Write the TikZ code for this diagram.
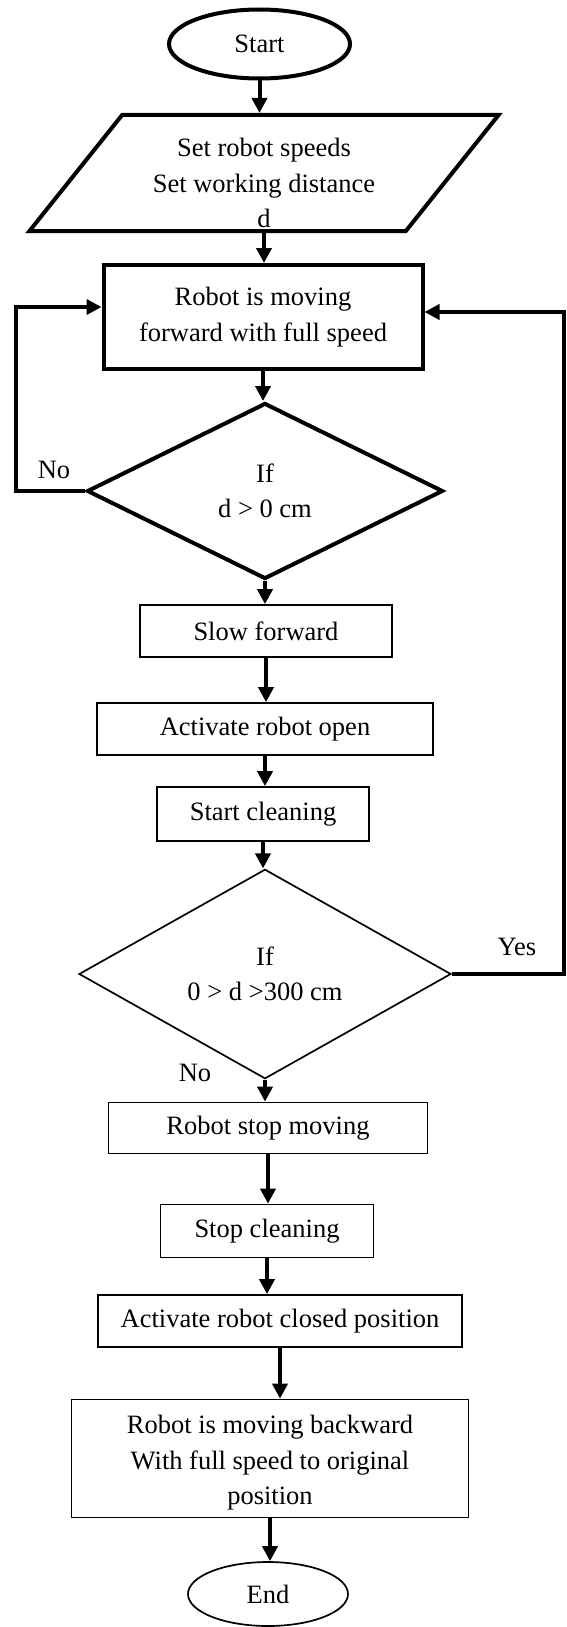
\documentclass[tikz,border=0pt]{standalone}
\usepackage{fontspec}
\setmainfont{Liberation Serif}
\usetikzlibrary{shapes.geometric,arrows.meta}

\begin{document}
\begin{tikzpicture}[x=1pt,y=-1pt,
  font=\fontsize{26.5}{35.5}\selectfont,
  every node/.style={align=center,inner sep=0pt},
  thinbox/.style={draw,line width=1.7pt,minimum height=52pt},
  thickbox/.style={draw,line width=4pt},
  oval/.style={draw,ellipse},
  decision/.style={draw,diamond},
  arr/.style={line width=4pt,-{Triangle[length=15pt,width=15pt]}}]
\useasboundingbox (0,0) rectangle (567,1627);
\node[oval,line width=4pt,minimum width=181pt,minimum height=69pt] (start) at (259.5,44) {Start};
\node[thickbox,trapezium,trapezium left angle=51,trapezium right angle=129,trapezium stretches=true,
  minimum width=470pt,minimum height=116pt] (setup) at (264,173) {\phantom{Set working distance}\\\phantom{d}\\\phantom{d}};
\node (setuptext) at (264,183) {Set robot speeds\\Set working distance\\d};
\node[thickbox,minimum width=319pt,minimum height=104pt] (move) at (263,317) {Robot is moving\\forward with full speed};
\node[decision,line width=4pt,minimum width=356pt,minimum height=176pt] (d1) at (265,491) {If\\d > 0 cm};
\node[thinbox,minimum width=252pt] (slow) at (266,631) {Slow forward};
\node[thinbox,minimum width=336pt] (open) at (265,729) {Activate robot open};
\node[thinbox,minimum width=212pt,minimum height=54pt] (clean) at (263,814) {Start cleaning};
\node[decision,line width=1.7pt,minimum width=372pt,minimum height=184pt] (d2) at (265,974) {If\\0 > d >300 cm};
\node[thinbox,minimum width=319pt,minimum height=51pt] (stop) at (268,1128) {Robot stop moving};
\node[thinbox,minimum width=213pt,minimum height=53pt] (stopclean) at (267,1231) {Stop cleaning};
\node[thinbox,minimum width=364pt] (closed) at (280,1321) {Activate robot closed position};
\node[thinbox,minimum width=397pt,minimum height=118pt] (back) at (270,1458.5) {};
\node (backtext) at (270,1463) {Robot is moving backward\\With full speed to original\\position};
\node[oval,line width=1.7pt,minimum width=160pt,minimum height=64pt] (finish) at (268,1594) {End};
\node (no1) at (54,470) {No};
\node (yes) at (517,947) {Yes};
\node (no2) at (195,1073) {No};
\foreach \a/\b in {start/setup,setup/move,move/d1,d1/slow,slow/open,open/clean,clean/d2,d2/stop,stop/stopclean,stopclean/closed,closed/back,back/finish}
  \draw[arr] (\a.center |- \a.south) -- (\a.center |- \b.north);
\coordinate (lc) at (16,307);
\coordinate (rc) at (564,312);
\draw[arr] (d1.west) -| (lc) -- (move.west |- lc);
\draw[arr] (d2.east) -| (rc) -- (move.east |- rc);
\end{tikzpicture}
\end{document}
